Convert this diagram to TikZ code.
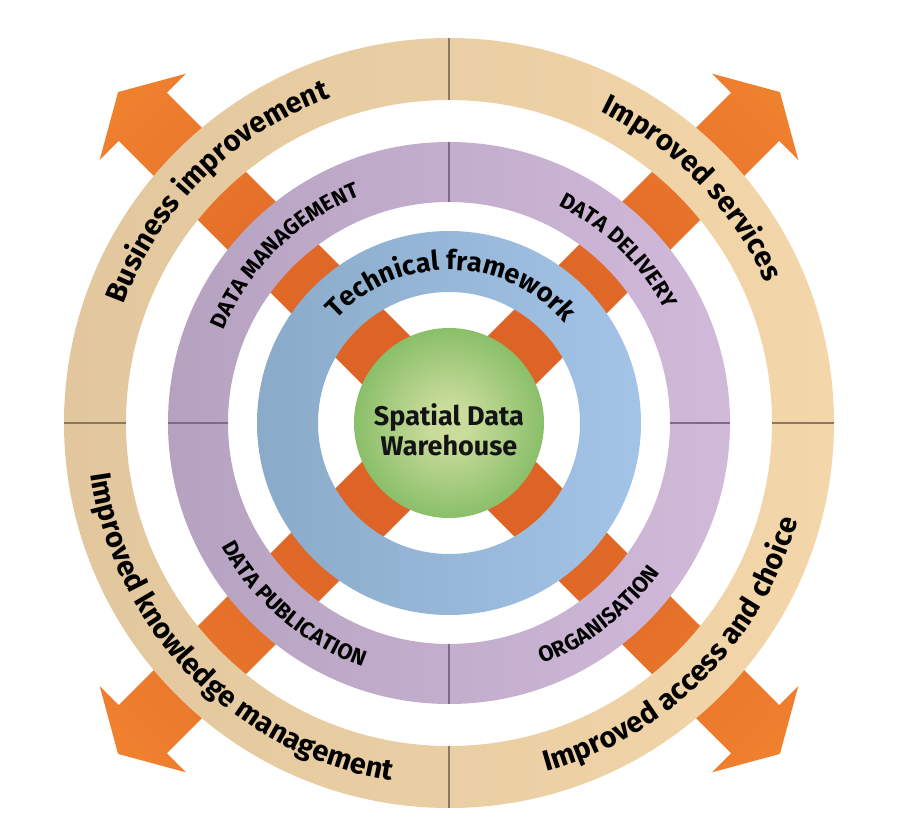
\documentclass[tikz,border=0pt]{standalone}
\usepackage{fontspec}
\setmainfont{Fira Sans}
\usetikzlibrary{decorations.text}
\definecolor{tanL}{HTML}{E2C79E}
\definecolor{tanR}{HTML}{F3D6A9}
\definecolor{purL}{HTML}{B5A2C0}
\definecolor{purR}{HTML}{D1B9DA}
\definecolor{bluL}{HTML}{89AAC8}
\definecolor{bluR}{HTML}{A3C4E7}
\definecolor{grnC}{HTML}{CADC9C}
\definecolor{grnE}{HTML}{8ABF69}
\definecolor{orA}{HTML}{DD6426}
\definecolor{orB}{HTML}{F38630}
\definecolor{divTan}{HTML}{8C7862}
\definecolor{divPur}{HTML}{7F6A8A}
\definecolor{txtc}{HTML}{141414}
\pgfdeclareradialshading{orrad}{\pgfpoint{0bp}{0bp}}{color(0bp)=(orA); color(8bp)=(orA); color(25bp)=(orB); color(50bp)=(orB)}
\pgfdeclareradialshading{grnrad}{\pgfpoint{0bp}{0bp}}{color(0bp)=(grnC); color(5bp)=(grnC); color(25bp)=(grnE); color(50bp)=(grnE)}
\newcommand\fOut{\fontsize{29pt}{30pt}\selectfont\bfseries}
\newcommand\fPur{\fontsize{22pt}{24pt}\selectfont\bfseries}
\newcommand\fBlu{\fontsize{27pt}{28pt}\selectfont\bfseries}
\tikzset{
  ringdiv/.style={line width=1.5pt},
  centertext/.style={align=center, text=txtc, font=\fontsize{27pt}{30pt}\selectfont\bfseries, inner sep=0pt}
}
\begin{document}
\begin{tikzpicture}
\useasboundingbox (-449pt,-417pt) rectangle (451pt,423pt);
% orange arrows
\foreach \a in {45,135,225,315}{
  \begin{scope}[rotate=\a]
    \clip (80pt,-34pt) -- (433pt,-34pt) -- (433pt,-61pt) -- (468pt,0pt) -- (433pt,61pt) -- (433pt,34pt) -- (80pt,34pt) -- cycle;
    \shade[shading=orrad] (0,0) circle (470pt);
  \end{scope}
}
% rings
\shade[left color=tanL, right color=tanR, even odd rule] (0,0) circle (385pt) (0,0) circle (323pt);
\shade[left color=purL, right color=purR, even odd rule] (0,0) circle (281pt) (0,0) circle (221pt);
\shade[left color=bluL, right color=bluR, even odd rule] (0,0) circle (192pt) (0,0) circle (131pt);
\shade[shading=grnrad] (0,0) circle (95pt);
% dividers
\foreach \a in {0,90,180,270}{
  \draw[ringdiv, divTan] (\a:323pt) -- (\a:385pt);
  \draw[ringdiv, divPur] (\a:221pt) -- (\a:281pt);
}
% outer ring texts
\path[decorate, decoration={text along path, text align=center, text={|\fOut|Business improvement}}]
  (215:346pt) arc[start angle=215, end angle=55, radius=346pt];
\path[decorate, decoration={text along path, text align=center, text={|\fOut|Improved services}}]
  (124:346pt) arc[start angle=124, end angle=-36, radius=346pt];
\path[decorate, decoration={text along path, text align=center, text={|\fOut|Improved knowledge management}}]
  (134.5:362pt) arc[start angle=134.5, end angle=314.5, radius=362pt];
\path[decorate, decoration={text along path, text align=center, text={|\fOut|Improved access and choice}}]
  (235:362pt) arc[start angle=235, end angle=395, radius=362pt];
% purple ring texts
\path[decorate, decoration={text along path, text align=center, text={|\fPur|DATA MANAGEMENT}}]
  (214.5:243.5pt) arc[start angle=214.5, end angle=54.5, radius=243.5pt];
\path[decorate, decoration={text along path, text align=center, text={|\fPur|DATA DELIVERY}}]
  (125.5:243.5pt) arc[start angle=125.5, end angle=-34.5, radius=243.5pt];
\path[decorate, decoration={text along path, text align=center, text={|\fPur|DATA PUBLICATION}}]
  (149.5:258.5pt) arc[start angle=149.5, end angle=309.5, radius=258.5pt];
\path[decorate, decoration={text along path, text align=center, text={|\fPur|ORGANISATION}}]
  (228:258.5pt) arc[start angle=228, end angle=388, radius=258.5pt];
% blue ring text
\path[decorate, decoration={text along path, text align=center, text={|\fBlu|Technical framework}}]
  (179:153pt) arc[start angle=179, end angle=-1, radius=153pt];
% centre
\node[centertext] (sdw) at (0pt,-7pt) {Spatial Data\\Warehouse};
\end{tikzpicture}
\end{document}
